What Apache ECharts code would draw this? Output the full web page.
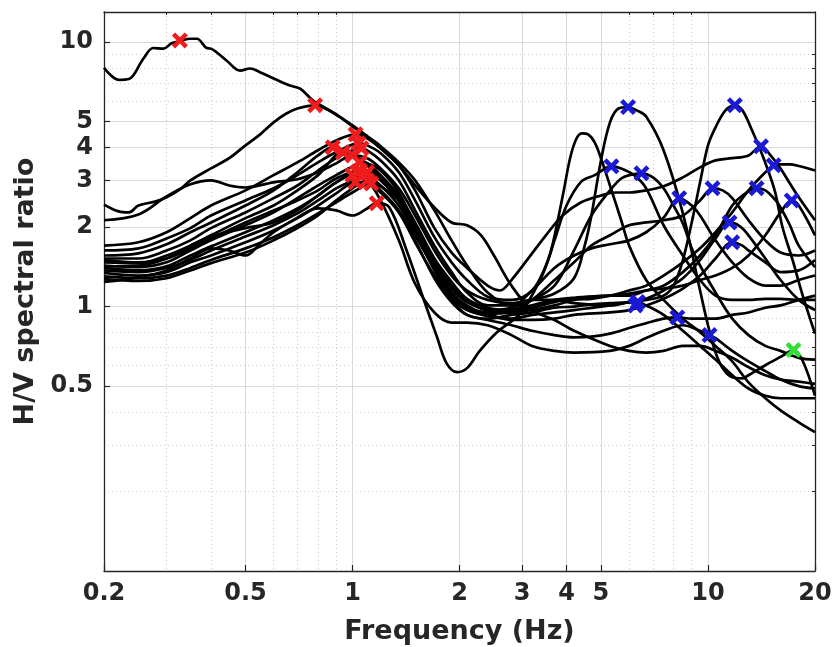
<!DOCTYPE html>
<html><head><meta charset="utf-8">
<script src="https://cdn.jsdelivr.net/npm/echarts@6/dist/echarts.min.js"></script>
<style>html,body{margin:0;padding:0;background:#fff}#c{width:836px;height:647px}</style>
</head><body><div id="c"></div>
<script>
// Axis ticks (Hz / ratio)
const xTicks = [0.2, 0.5, 1, 2, 3, 4, 5, 10, 20];
const xMinor = [0.3, 0.4, 0.6, 0.7, 0.8, 0.9, 6, 7, 8, 9];
const yTicks = [0.5, 1, 2, 3, 4, 5, 10];
const yMinor = [0.2, 0.3, 0.4, 0.6, 0.7, 0.8, 0.9, 6, 7, 8, 9];
const xRange = [0.2, 20];
const yRange = [0.1, 13];

// H/V curves: [frequency Hz, H/V ratio]
const curveA = [[0.2,8.0],[0.22,7.2],[0.235,7.25],[0.258,8.65],[0.275,9.5],[0.294,9.45],[0.31,9.9],[0.327,10.1],[0.35,10.3],[0.365,10.3],[0.389,9.5],[0.4,9.45],[0.443,8.5],[0.483,7.8],[0.515,7.95],[0.549,7.7],[0.612,7.2],[0.667,6.85],[0.714,6.65],[0.776,6.0],[0.846,5.6],[0.922,5.2],[1.0,4.8],[1.1,4.37],[1.2,3.97],[1.35,3.42],[1.5,2.87],[1.7,2.37],[1.9,2.08],[2.1,2.03],[2.3,1.86],[2.5,1.56],[2.8,1.2],[3.2,0.97],[3.7,0.89],[4.2,0.81],[5.3,0.71],[6,0.68],[6.7,0.67],[7.5,0.68],[8.5,0.71],[9.5,0.71],[10.5,0.68],[11.7,0.64],[13,0.59],[14.5,0.55],[16,0.53],[18,0.52],[20,0.51]];
const curveB = [[0.2,2.43],[0.22,2.29],[0.235,2.27],[0.25,2.41],[0.28,2.5],[0.3,2.59],[0.33,2.8],[0.35,3.0],[0.4,3.33],[0.45,3.64],[0.5,4.07],[0.55,4.48],[0.6,4.97],[0.65,5.36],[0.7,5.61],[0.785,5.77],[0.85,5.56],[0.9,5.33],[1.0,4.84],[1.1,4.41],[1.2,4.04],[1.35,3.51],[1.5,3.0],[1.7,2.31],[1.9,1.78],[2.1,1.43],[2.4,1.13],[2.8,1.01],[3.2,1.06],[3.7,1.12],[4.2,1.28],[4.5,1.7],[4.7,2.21],[5.0,3.57],[5.3,4.97],[5.6,5.61],[5.96,5.68],[6.3,5.52],[6.7,5.23],[7.5,3.9],[8.5,2.25],[9.5,1.15],[10,0.85],[10.5,0.67],[11,0.585],[11.7,0.54],[12.5,0.535],[13,0.55],[14.5,0.6],[16,0.645],[17.4,0.685],[18.5,0.62],[20,0.46]];
const curveC = [[0.2,2.12],[0.25,2.23],[0.3,2.61],[0.35,2.9],[0.4,3.0],[0.45,2.87],[0.5,2.82],[0.6,2.95],[0.7,3.03],[0.8,3.22],[0.9,3.48],[1.0,3.73],[1.1,3.64],[1.2,3.33],[1.35,2.8],[1.5,2.21],[1.7,1.63],[1.9,1.31],[2.1,1.15],[2.4,1.06],[2.8,1.03],[3.2,1.06],[3.7,1.06],[4.2,1.03],[5.3,1.01],[6,1.04],[6.7,1.06],[7.5,1.1],[8,1.2],[8.5,1.5],[9,2.08],[9.5,2.95],[10,4.07],[10.5,4.76],[11.2,5.52],[11.9,5.77],[12.5,5.52],[13.3,4.64],[14.3,3.67],[15.4,2.75],[16.2,2.0],[17.3,1.5],[18.4,1.12],[20,0.79]];
const curveD = [[0.2,1.7],[0.25,1.75],[0.3,1.91],[0.35,2.16],[0.4,2.41],[0.5,2.75],[0.6,3.14],[0.7,3.51],[0.8,3.9],[0.9,4.25],[1.02,4.48],[1.1,4.33],[1.2,3.97],[1.35,3.42],[1.5,2.75],[1.7,1.98],[1.9,1.6],[2.1,1.4],[2.4,1.2],[2.6,1.15],[2.8,1.26],[3.2,1.59],[3.5,1.86],[3.9,2.21],[4.4,2.48],[5.0,2.63],[5.5,2.7],[6,2.7],[6.7,2.75],[7.5,2.85],[8.5,3.08],[9.5,3.36],[10.5,3.57],[11.7,3.64],[13,3.73],[14.1,4.04],[15,3.73],[16,3.33],[17,2.92],[18,2.59],[20,2.12]];
const curveE = [[0.2,1.63],[0.25,1.66],[0.3,1.81],[0.35,1.98],[0.4,2.21],[0.5,2.52],[0.6,2.8],[0.7,3.14],[0.8,3.51],[0.9,3.83],[1.04,4.14],[1.1,4.07],[1.2,3.8],[1.35,3.22],[1.5,2.52],[1.7,1.83],[1.9,1.47],[2.1,1.26],[2.4,1.09],[2.8,1.06],[3.2,1.15],[3.5,1.43],[3.7,1.78],[4.0,2.41],[4.4,2.97],[4.8,3.14],[5.35,3.39],[5.7,3.33],[6.2,3.14],[6.7,2.8],[7.5,2.03],[8.5,1.56],[9.5,1.26],[10.5,1.1],[11.7,1.06],[13,1.06],[14.5,1.07],[16,1.07],[18,1.06],[20,1.06]];
const curveF = [[0.2,1.56],[0.25,1.59],[0.3,1.72],[0.35,1.91],[0.4,2.08],[0.5,2.41],[0.6,2.75],[0.7,3.22],[0.8,3.73],[0.88,4.0],[0.95,3.9],[1.0,3.73],[1.1,3.42],[1.2,3.05],[1.35,2.52],[1.5,1.98],[1.7,1.47],[1.9,1.2],[2.1,1.06],[2.4,0.97],[2.8,0.99],[3.2,1.06],[3.7,1.2],[4.2,1.63],[4.7,2.21],[5.3,2.75],[5.7,3.05],[6,3.14],[6.5,3.19],[7,3.08],[7.5,2.8],[8,2.41],[8.5,2.06],[9,1.66],[9.5,1.43],[10.5,1.13],[11.7,0.9],[13,0.78],[14.5,0.71],[16,0.68],[18,0.64],[20,0.63]];
const curveG = [[0.2,1.52],[0.25,1.52],[0.3,1.63],[0.35,1.78],[0.4,1.98],[0.5,2.27],[0.6,2.57],[0.7,2.87],[0.8,3.27],[0.9,3.64],[1.0,3.9],[1.06,3.97],[1.1,3.9],[1.2,3.57],[1.35,3.0],[1.5,2.31],[1.7,1.7],[1.9,1.35],[2.1,1.13],[2.4,1.01],[2.8,1.01],[3.2,1.15],[3.7,1.4],[4.2,1.56],[4.7,1.66],[5.3,1.72],[6,1.78],[6.7,1.91],[7.5,2.17],[8.3,2.57],[9,2.41],[9.5,2.21],[10.5,1.78],[11.7,1.47],[13,1.28],[14.5,1.2],[16,1.2],[18,1.26],[20,1.31]];
const curveH = [[0.2,1.47],[0.25,1.46],[0.3,1.56],[0.35,1.7],[0.4,1.86],[0.5,2.16],[0.6,2.41],[0.7,2.75],[0.8,3.14],[0.94,3.83],[1.0,3.73],[1.1,3.48],[1.2,3.14],[1.35,2.63],[1.5,2.08],[1.7,1.52],[1.9,1.24],[2.1,1.07],[2.4,0.99],[2.8,0.97],[3.2,1.06],[3.7,1.26],[4.2,1.47],[4.7,1.7],[5.3,1.86],[6,2.03],[6.7,2.08],[7.5,2.12],[8.5,2.21],[9.5,2.52],[10.3,2.8],[11,2.75],[11.7,2.57],[13,2.12],[14.5,1.78],[16,1.6],[18,1.56],[20,1.63]];
const curveI = [[0.2,1.43],[0.25,1.41],[0.3,1.47],[0.35,1.63],[0.4,1.78],[0.5,2.03],[0.6,2.27],[0.7,2.57],[0.8,2.87],[0.9,3.14],[1.0,3.39],[1.05,3.51],[1.1,3.48],[1.2,3.27],[1.35,2.7],[1.5,2.03],[1.7,1.47],[1.9,1.17],[2.1,1.04],[2.4,0.97],[2.8,0.95],[3.2,0.97],[3.7,1.01],[4.2,1.06],[4.7,1.07],[5.3,1.1],[6,1.15],[6.7,1.2],[7.5,1.31],[8.5,1.47],[9.5,1.66],[10.5,1.91],[11.7,2.27],[13,2.75],[14.5,3.22],[15.3,3.42],[16,3.45],[17,3.45],[18,3.4],[20,3.27]];
const curveJ = [[0.2,1.4],[0.25,1.37],[0.3,1.42],[0.35,1.56],[0.4,1.69],[0.5,1.91],[0.6,2.12],[0.7,2.35],[0.8,2.63],[0.9,2.95],[1.03,3.22],[1.1,3.14],[1.2,2.87],[1.35,2.41],[1.5,1.86],[1.7,1.4],[1.9,1.13],[2.1,1.01],[2.4,0.94],[2.8,0.95],[3.2,0.99],[3.7,1.04],[4.2,1.07],[4.7,1.09],[5.3,1.1],[6,1.1],[6.7,1.15],[7.5,1.2],[8.5,1.35],[9.5,1.56],[10.5,1.86],[11.7,2.41],[12.5,2.63],[13.7,2.8],[14.5,2.75],[15.5,2.52],[16,2.37],[17,2.03],[18,1.7],[20,1.41]];
const curveK = [[0.2,1.37],[0.25,1.35],[0.3,1.4],[0.35,1.5],[0.4,1.63],[0.5,1.84],[0.6,2.03],[0.7,2.25],[0.8,2.52],[0.9,2.8],[1.0,3.0],[1.1,3.22],[1.2,3.05],[1.35,2.57],[1.5,1.94],[1.7,1.4],[1.9,1.1],[2.1,0.99],[2.4,0.95],[2.8,0.97],[3.2,1.01],[3.7,1.06],[4.2,1.08],[5.3,1.1],[6,1.12],[6.7,1.15],[7.5,1.17],[8.5,1.2],[9.5,1.26],[10.5,1.31],[11.7,1.4],[13,1.56],[14.5,1.86],[16,2.27],[17.2,2.52],[18,2.41],[20,1.86]];
const curveL = [[0.2,1.34],[0.25,1.31],[0.3,1.35],[0.35,1.47],[0.4,1.56],[0.5,1.75],[0.6,1.94],[0.7,2.16],[0.8,2.41],[0.9,2.68],[1.02,2.95],[1.1,2.92],[1.2,2.7],[1.35,2.27],[1.5,1.75],[1.7,1.31],[1.9,1.07],[2.1,0.97],[2.4,0.92],[2.8,0.9],[3.2,0.93],[3.7,0.95],[4.2,0.97],[5.3,1.01],[6,1.04],[6.7,1.07],[7.5,1.15],[8.5,1.28],[9.5,1.5],[10.5,1.81],[11.5,2.08],[12.3,2.01],[13,1.86],[14.5,1.52],[16,1.26],[18,1.06],[20,0.97]];
const curveM = [[0.2,1.3],[0.25,1.28],[0.3,1.31],[0.35,1.4],[0.4,1.5],[0.5,1.66],[0.6,1.83],[0.7,2.03],[0.8,2.25],[0.9,2.48],[1.0,2.7],[1.13,2.92],[1.2,2.85],[1.35,2.52],[1.5,1.98],[1.7,1.43],[1.9,1.13],[2.1,1.0],[2.4,0.94],[2.8,0.89],[3.2,0.89],[3.7,0.9],[4.2,0.93],[5.3,0.95],[6,0.97],[6.7,1.01],[7.5,1.07],[8.5,1.17],[9.5,1.31],[10.5,1.52],[11.7,1.75],[12.5,1.7],[13,1.63],[14.5,1.47],[16,1.35],[18,1.37],[20,1.5]];
const curveN = [[0.2,1.24],[0.25,1.29],[0.3,1.37],[0.35,1.52],[0.4,1.66],[0.45,1.63],[0.5,1.56],[0.55,1.73],[0.6,1.91],[0.7,2.17],[0.8,2.35],[0.9,2.31],[1.0,2.21],[1.1,2.35],[1.17,2.46],[1.27,2.37],[1.42,1.63],[1.58,1.08],[1.73,0.765],[1.84,0.61],[1.97,0.565],[2.1,0.585],[2.28,0.68],[2.55,0.8],[2.96,0.94],[3.37,1.26],[3.6,1.59],[3.78,2.12],[3.93,2.75],[4.1,3.67],[4.27,4.33],[4.43,4.52],[4.6,4.48],[4.8,4.18],[5.0,3.64],[5.3,2.87],[5.7,2.12],[6,1.7],[6.7,1.26],[7.5,1.06],[8.5,0.9],[9.5,0.8],[10.5,0.71],[11.7,0.62],[13,0.517],[14.5,0.45],[16,0.405],[18,0.365],[20,0.335]];
const curveO = [[0.2,1.5],[0.25,1.47],[0.3,1.52],[0.35,1.66],[0.4,1.81],[0.5,2.08],[0.6,2.31],[0.7,2.52],[0.8,2.75],[0.9,3.05],[1.05,3.27],[1.1,3.25],[1.2,3.0],[1.35,2.52],[1.5,1.91],[1.7,1.37],[1.9,1.06],[2.1,0.93],[2.4,0.9],[2.8,0.93],[3.2,0.95],[3.7,0.99],[4.2,1.0],[4.7,1.02],[5.3,1.03],[6.35,1.04],[6.7,1.01],[7.5,0.93],[8.5,0.81],[9.5,0.71],[10.5,0.63],[11.7,0.55],[13,0.49],[14.5,0.46],[16,0.45],[18,0.45],[20,0.45]];
const curveP = [[0.2,1.27],[0.25,1.25],[0.3,1.28],[0.35,1.37],[0.4,1.46],[0.5,1.6],[0.6,1.78],[0.7,1.98],[0.8,2.21],[0.9,2.52],[1.0,2.8],[1.1,3.0],[1.2,2.75],[1.35,2.31],[1.5,1.78],[1.7,1.28],[1.9,1.04],[2.1,0.93],[2.4,0.89],[2.8,0.85],[3.2,0.81],[3.7,0.78],[4.2,0.765],[4.7,0.77],[5.3,0.79],[6,0.83],[6.7,0.865],[7.5,0.9],[8.2,0.91],[9,0.9],[10.5,0.9],[11.7,0.93],[13,0.95],[14.5,0.99],[16,1.01],[18,1.06],[20,1.1]];
const curveQ = [[0.2,1.42],[0.25,1.43],[0.3,1.52],[0.35,1.7],[0.4,1.84],[0.5,1.98],[0.6,2.08],[0.7,2.31],[0.8,2.63],[0.9,2.95],[1.0,3.14],[1.1,3.0],[1.2,2.52],[1.35,1.78],[1.5,1.22],[1.7,0.95],[1.9,0.87],[2.1,0.87],[2.4,0.85],[2.8,0.78],[3.2,0.71],[3.7,0.68],[4.2,0.67],[5.3,0.68],[6,0.71],[6.7,0.76],[7.5,0.81],[8.5,0.85],[9.5,0.81],[10.1,0.78],[10.5,0.76],[11.7,0.68],[13,0.62],[14.5,0.57],[16,0.53],[18,0.5],[20,0.49]];

// Picked peaks
const redPeaks = [[0.327,10.15],[0.785,5.77],[0.88,4.0],[0.94,3.83],[1.02,4.48],[1.04,4.14],[1.0,3.73],[1.06,3.97],[1.05,3.51],[1.03,3.22],[1.02,2.95],[1.1,3.22],[1.13,2.92],[1.17,2.46],[1.05,3.27],[1.1,3.0],[1.0,3.14]];
const bluePeaks = [[5.96,5.68],[11.9,5.77],[5.35,3.39],[6.5,3.19],[8.3,2.57],[10.3,2.8],[14.1,4.04],[15.3,3.42],[13.7,2.8],[17.2,2.52],[11.5,2.08],[11.7,1.75],[6.35,1.04],[6.25,1.01],[8.2,0.91],[10.1,0.78]];
const greenPeaks = [[17.4,0.685]];

const curves = [curveA, curveB, curveC, curveD, curveE, curveF, curveG, curveH, curveI,
                curveJ, curveK, curveL, curveM, curveN, curveO, curveP, curveQ];

const L = Math.log10;
const toLog = arr => arr.map(p => [L(p[0]), L(p[1])]);
function fmt(ticks) {
  return v => {
    let best = ticks[0];
    for (const t of ticks) if (Math.abs(L(t) - v) < Math.abs(L(best) - v)) best = t;
    return String(best);
  };
}
const axisCol = '#262626';
const font = 'DejaVu Sans';
const labelStyle = {color: axisCol, fontFamily: font, fontWeight: 'bold', fontSize: 24};
const nameStyle = {color: axisCol, fontFamily: font, fontWeight: 'bold', fontSize: 27};
const majorGrid = {show: true, lineStyle: {color: '#d9d9d9', width: 1, type: 'solid'}};
const minorGrid = {show: true, lineStyle: {color: '#cccccc', width: 1, type: [1, 3]}};
const xMin = L(xRange[0]), xMax = L(xRange[1]);
const yMin = L(yRange[0]), yMax = L(yRange[1]);
const XMARK = 'path://M0,2 L2,0 L5,3 L8,0 L10,2 L7,5 L10,8 L8,10 L5,7 L2,10 L0,8 L3,5 Z';

const series = curves.map(c => ({
  type: 'line', data: toLog(c), showSymbol: false, symbol: 'none',
  smooth: 0.35, lineStyle: {color: '#000', width: 2.7}, z: 2, silent: true
}));
[[redPeaks, '#ee1c1c'], [bluePeaks, '#1a1ad6'], [greenPeaks, '#33dd33']].forEach(([pts, col]) => {
  series.push({type: 'scatter', data: toLog(pts), symbol: XMARK, symbolSize: 16,
    itemStyle: {color: col, opacity: 1}, z: 5, silent: true});
});

const chart = echarts.init(document.getElementById('c'), null, {renderer: 'canvas'});
chart.setOption({
  animation: false,
  backgroundColor: '#fff',
  grid: {left: 104, right: 21, top: 12, bottom: 76, containLabel: false, outerBoundsMode: 'none'},
  xAxis: [
    {type: 'value', min: xMin, max: xMax, position: 'bottom',
     axisLine: {show: true, onZero: false, lineStyle: {color: axisCol, width: 1.3}},
     axisTick: {show: true, inside: true, length: 6, customValues: xTicks.map(L), lineStyle: {color: axisCol, width: 1.2}},
     axisLabel: Object.assign({show: true, customValues: xTicks.map(L), formatter: fmt(xTicks), margin: 11}, labelStyle),
     splitLine: majorGrid,
     name: 'Frequency (Hz)', nameLocation: 'middle', nameGap: 47, nameTextStyle: nameStyle},
    {type: 'value', min: xMin, max: xMax, position: 'top',
     axisLine: {show: true, onZero: false, lineStyle: {color: axisCol, width: 1.3}},
     axisTick: {show: true, inside: true, length: 3, customValues: xMinor.map(L), lineStyle: {color: axisCol, width: 1}},
     axisLabel: {show: false},
     splitLine: minorGrid}
  ],
  yAxis: [
    {type: 'value', min: yMin, max: yMax, position: 'left',
     axisLine: {show: true, onZero: false, lineStyle: {color: axisCol, width: 1.3}},
     axisTick: {show: true, inside: true, length: 6, customValues: yTicks.map(L), lineStyle: {color: axisCol, width: 1.2}},
     axisLabel: Object.assign({show: true, customValues: yTicks.map(L), formatter: fmt(yTicks), margin: 11}, labelStyle),
     splitLine: majorGrid,
     name: 'H/V spectral ratio', nameLocation: 'middle', nameGap: 64, nameTextStyle: nameStyle},
    {type: 'value', min: yMin, max: yMax, position: 'right',
     axisLine: {show: true, onZero: false, lineStyle: {color: axisCol, width: 1.3}},
     axisTick: {show: true, inside: true, length: 3, customValues: yMinor.map(L), lineStyle: {color: axisCol, width: 1}},
     axisLabel: {show: false},
     splitLine: minorGrid}
  ],
  series: series
});
</script>
</body></html>
